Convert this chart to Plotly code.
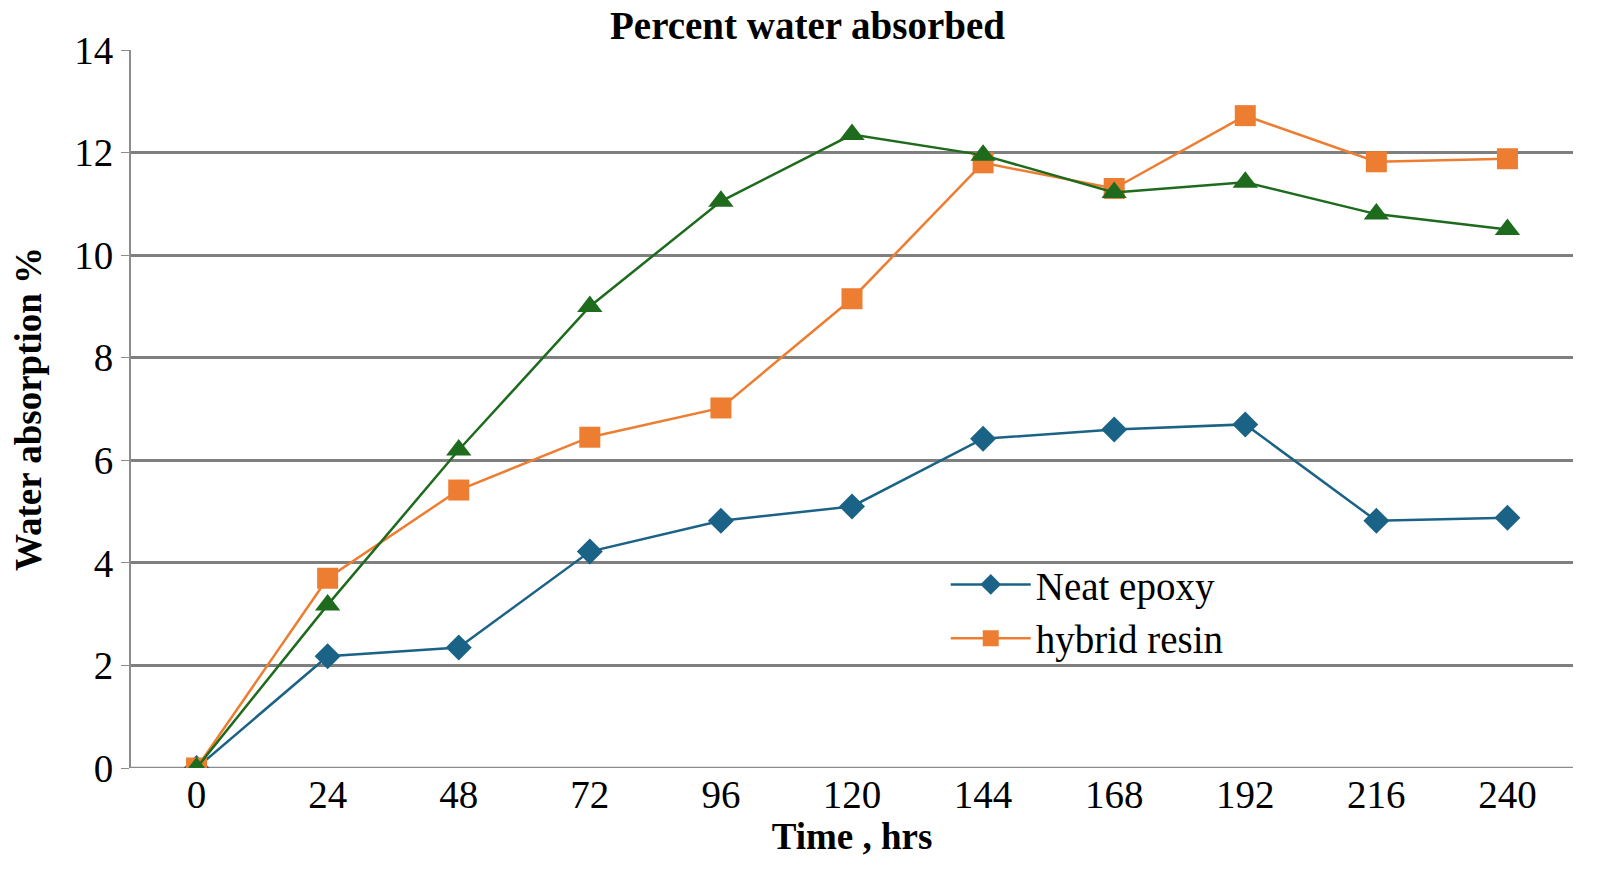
import plotly.graph_objects as go

hours = ["0", "24", "48", "72", "96", "120", "144", "168", "192", "216", "240"]
neat_epoxy = [0, 2.18, 2.35, 4.22, 4.82, 5.1, 6.42, 6.6, 6.7, 4.82, 4.88]
hybrid_resin = [0, 3.7, 5.42, 6.45, 7.02, 9.15, 11.8, 11.3, 12.72, 11.82, 11.88]
third_series = [0, 3.18, 6.2, 9.0, 11.05, 12.35, 11.95, 11.22, 11.42, 10.8, 10.5]

fig = go.Figure()
fig.add_trace(go.Scatter(x=hours, y=neat_epoxy, name="Neat epoxy", mode="lines+markers",
                         line=dict(color="#1b6386", width=2.5),
                         marker=dict(symbol="diamond", size=20, color="#1b6386")))
fig.add_trace(go.Scatter(x=hours, y=hybrid_resin, name="hybrid resin", mode="lines+markers",
                         line=dict(color="#ed7d31", width=2.5),
                         marker=dict(symbol="square", size=21, color="#ed7d31")))
fig.add_trace(go.Scatter(x=hours, y=third_series, name="", mode="lines+markers", showlegend=False,
                         line=dict(color="#1e6b1e", width=2.5),
                         marker=dict(symbol="triangle-up", size=22, color="#1e6b1e")))

fig.update_layout(
    width=1599, height=872, paper_bgcolor="white", plot_bgcolor="white",
    margin=dict(l=123, r=34, t=42, b=112),
    font=dict(family="Liberation Serif", size=39, color="black"),
    title=dict(text="<b>Percent water absorbed</b>", x=0.5, xanchor="center", y=0.98, yanchor="middle",
               font=dict(size=39)),
    xaxis=dict(type="category", range=[-0.5, 10.5], showgrid=False, showline=False,
               ticks="", tickfont=dict(size=39),
               title=dict(text="<b>Time , hrs</b>", standoff=0, font=dict(size=37))),
    yaxis=dict(range=[0, 14], dtick=2, showgrid=True, gridcolor="#7f7f7f", gridwidth=3,
               showline=True, linecolor="#8c8c8c", linewidth=2, zeroline=False,
               ticks="outside", ticklen=8, tickcolor="#8c8c8c", tickfont=dict(size=39),
               title=dict(text="<b>Water absorption %</b>", standoff=28, font=dict(size=37))),
    legend=dict(x=0.565, y=0.30, xanchor="left", yanchor="top", bgcolor="rgba(0,0,0,0)",
                font=dict(size=39), tracegroupgap=45, itemwidth=80),
)
fig.add_shape(type="line", xref="paper", yref="y", x0=0, x1=1, y0=0, y1=0,
              line=dict(color="#8c8c8c", width=2.5), layer="below")
fig.write_html("out.html")
